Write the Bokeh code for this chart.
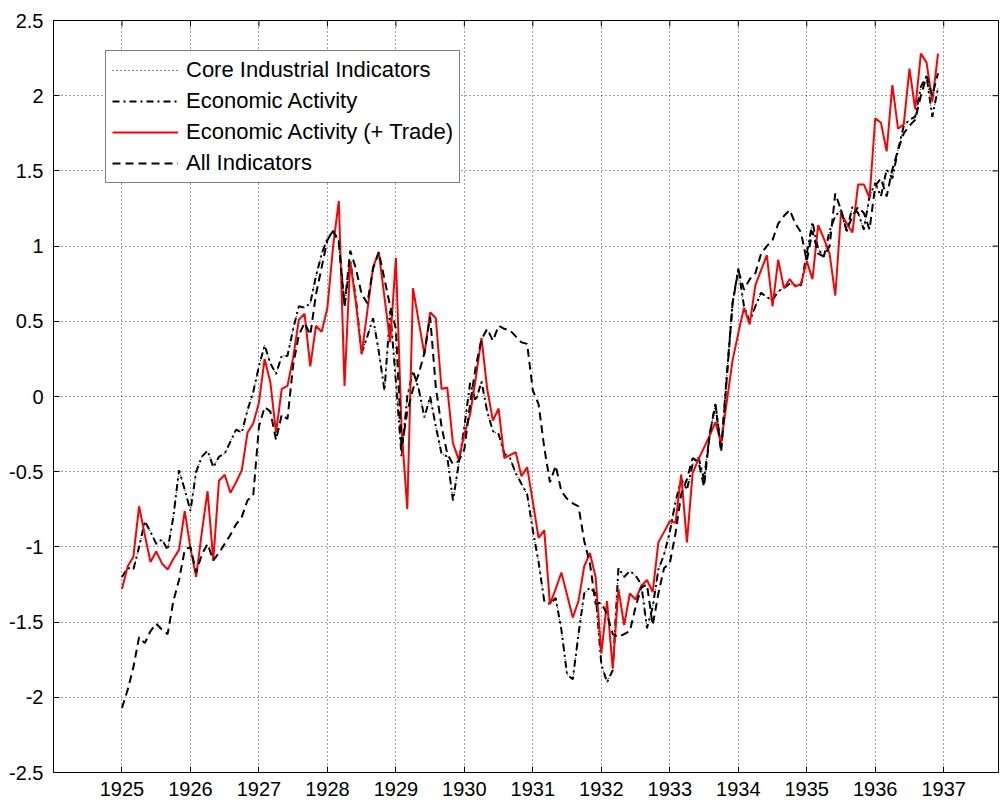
from bokeh.plotting import figure
from bokeh.models import Range1d, FixedTicker, Legend, LegendItem
from bokeh.embed import file_html
from bokeh.resources import INLINE
import math

# ---------------- data (monthly, Jan 1925 .. Dec 1936) ----------------
start_year = 1925
n_months = 144

trade_values = [
    -1.28, -1.13, -1.065, -0.73, -0.92, -1.10, -1.03, -1.11, -1.15, -1.08, -1.02, -0.76,
    -1.01, -1.20, -0.90, -0.63, -1.09, -0.56, -0.52, -0.64, -0.57, -0.49, -0.24, -0.18,
    -0.04, 0.25, 0.095, -0.24, 0.05, 0.07, 0.26, 0.51, 0.55, 0.20, 0.47, 0.43,
    0.59, 1.00, 1.30, 0.07, 0.90, 0.62, 0.28, 0.57, 0.86, 0.96, 0.66, 0.36,
    0.92, -0.22, -0.75, 0.72, 0.50, 0.28, 0.56, 0.52, 0.05, 0.06, -0.31, -0.42,
    -0.25, -0.12, 0.12, 0.39, 0.05, -0.16, -0.08, -0.41, -0.39, -0.37, -0.53, -0.47,
    -0.70, -0.94, -0.89, -1.38, -1.28, -1.17, -1.32, -1.47, -1.36, -1.13, -1.04, -1.20,
    -1.71, -1.36, -1.81, -1.28, -1.52, -1.31, -1.35, -1.26, -1.22, -1.30, -0.97, -0.90,
    -0.83, -0.84, -0.52, -0.97, -0.51, -0.42, -0.34, -0.26, -0.17, -0.31, -0.03, 0.24,
    0.42, 0.59, 0.48, 0.74, 0.84, 0.94, 0.60, 0.91, 0.72, 0.78, 0.73, 0.75,
    0.90, 0.78, 1.14, 1.05, 0.95, 0.67, 1.22, 1.15, 1.09, 1.41, 1.41, 1.32,
    1.85, 1.82, 1.63, 2.07, 1.78, 1.81, 2.18, 1.91, 2.28, 2.22, 1.96, 2.28,
]

econ_values = [
    -1.20, -1.14, -1.15, -1.00, -0.83, -0.90, -0.98, -0.95, -1.02, -0.80, -0.49, -0.62,
    -0.76, -0.50, -0.40, -0.36, -0.47, -0.40, -0.38, -0.30, -0.22, -0.24, -0.09, 0.03,
    0.20, 0.34, 0.22, 0.15, 0.27, 0.27, 0.45, 0.60, 0.59, 0.62, 0.80, 0.95,
    1.05, 1.10, 1.04, 0.60, 0.90, 0.65, 0.29, 0.40, 0.52, 0.30, 0.04, 0.57,
    0.10, -0.40, 0.00, 0.17, 0.05, -0.14, 0.00, -0.20, -0.38, -0.40, -0.69, -0.45,
    -0.20, 0.09, -0.03, 0.10, -0.10, -0.23, -0.25, -0.38, -0.41, -0.51, -0.58, -0.65,
    -0.89, -1.10, -1.36, -1.38, -1.34, -1.55, -1.85, -1.88, -1.58, -1.31, -1.27, -1.31,
    -1.78, -1.90, -1.82, -1.14, -1.20, -1.16, -1.19, -1.25, -1.54, -1.40, -1.15, -1.05,
    -0.90, -0.70, -0.55, -0.62, -0.45, -0.40, -0.55, -0.25, -0.05, -0.35, 0.15, 0.62,
    0.85, 0.60, 0.50, 0.60, 0.69, 0.66, 0.64, 0.70, 0.72, 0.75, 0.74, 0.74,
    0.95, 1.16, 0.98, 0.93, 1.10, 1.20, 1.24, 1.10, 1.26, 1.22, 1.11, 1.33,
    1.42, 1.33, 1.51, 1.45, 1.64, 1.80, 1.84, 1.86, 2.06, 2.13, 1.86, 2.05,
]

all_values = [
    -2.07, -1.95, -1.80, -1.60, -1.64, -1.56, -1.51, -1.55, -1.58, -1.36, -1.22, -1.02,
    -1.00, -1.17, -1.05, -0.98, -1.09, -1.04, -0.98, -0.92, -0.85, -0.80, -0.69, -0.66,
    -0.20, -0.07, -0.10, -0.29, -0.12, -0.15, 0.21, 0.41, 0.49, 0.41, 0.68, 0.86,
    1.04, 1.10, 1.02, 0.60, 0.97, 0.85, 0.68, 0.62, 0.85, 0.96, 0.78, 0.60,
    0.45, -0.34, -0.10, 0.05, 0.15, 0.29, 0.53, 0.06, -0.20, -0.38, -0.45, -0.43,
    -0.35, -0.05, 0.20, 0.38, 0.45, 0.37, 0.47, 0.45, 0.44, 0.40, 0.36, 0.35,
    0.04, -0.05, -0.34, -0.57, -0.46, -0.63, -0.68, -0.71, -0.73, -0.96, -1.11, -1.38,
    -1.37, -1.45, -1.58, -1.60, -1.58, -1.56, -1.40, -1.27, -1.25, -1.52, -1.31, -1.14,
    -1.11, -0.91, -0.65, -0.55, -0.41, -0.43, -0.60, -0.25, -0.05, -0.37, 0.13, 0.62,
    0.84, 0.71, 0.78, 0.82, 0.95, 1.00, 1.04, 1.15, 1.20, 1.24, 1.15, 1.09,
    0.90, 1.10, 0.95, 0.93, 1.00, 1.35, 1.24, 1.10, 1.20, 1.26, 1.22, 1.11,
    1.40, 1.45, 1.33, 1.51, 1.64, 1.75, 1.80, 1.84, 2.00, 2.13, 2.00, 2.15,
]

# the dotted series is hidden under the dash-dot one in the reference picture
core_values = list(econ_values)

x_ticks = list(range(1925, 1938))
y_ticks = [-2.5, -2, -1.5, -1, -0.5, 0, 0.5, 1, 1.5, 2, 2.5]
y_tick_labels = ["-2.5", "-2", "-1.5", "-1", "-0.5", "0", "0.5", "1", "1.5", "2", "2.5"]

series_labels = ["Core Industrial Indicators", "Economic Activity",
                 "Economic Activity (+ Trade)", "All Indicators"]

years = [start_year + m / 12.0 for m in range(n_months)]

X_MIN, X_MAX = 1924.0, 1937.8
Y_MIN, Y_MAX = -2.5, 2.5

# ---------------- figure ----------------
FONT = "Liberation Sans"
p = figure(width=1000, height=808, output_backend="svg", toolbar_location=None,
           x_range=Range1d(X_MIN, X_MAX), y_range=Range1d(Y_MIN, Y_MAX),
           min_border_left=53, min_border_right=2, min_border_top=20, min_border_bottom=36)
p.background_fill_color = "white"
p.border_fill_color = "white"
p.outline_line_color = "black"
p.outline_line_width = 1

# grid
p.xgrid.ticker = FixedTicker(ticks=x_ticks)
p.ygrid.ticker = FixedTicker(ticks=y_ticks)
for g in (p.xgrid, p.ygrid):
    g.grid_line_color = "#000000"
    g.grid_line_alpha = 0.75
    g.grid_line_dash = "1 3"
    g.grid_line_width = 1

# axes (MATLAB style: ticks pointing inward)
def style_axis(ax):
    ax.axis_line_color = "black"
    ax.major_tick_in = 6
    ax.major_tick_out = 0
    ax.minor_tick_in = 0
    ax.minor_tick_out = 0
    ax.major_tick_line_color = "black"
    ax.major_label_text_font = FONT
    ax.major_label_text_color = "black"
    ax.major_label_text_font_size = "20px"

xa = p.xaxis[0]
xa.ticker = FixedTicker(ticks=x_ticks)
xa.major_label_overrides = {t: str(t) for t in x_ticks}
style_axis(xa)
xa.major_label_standoff = 9

ya = p.yaxis[0]
ya.ticker = FixedTicker(ticks=y_ticks)
ya.major_label_overrides = dict(zip(y_ticks, y_tick_labels))
style_axis(ya)
ya.major_label_standoff = 10

# inward tick marks on the top and right edges of the box (half clipped by the frame)
p.scatter(x_ticks, [Y_MAX] * len(x_ticks), marker="dash", angle=math.pi / 2,
          size=12, line_color="black", line_width=1)
p.scatter([X_MAX] * len(y_ticks), y_ticks, marker="dash",
          size=12, line_color="black", line_width=1)

# lines
r_core = p.line(years, core_values, line_color="black", line_width=1, line_dash="1 3")
r_econ = p.line(years, econ_values, line_color="black", line_width=2, line_dash="7 4 2 4")
r_trade = p.line(years, trade_values, line_color="#ff0000", line_width=2)
r_all = p.line(years, all_values, line_color="black", line_width=2, line_dash="8 5")

legend = Legend(items=[LegendItem(label=lab, renderers=[r]) for lab, r in
                       zip(series_labels, [r_core, r_econ, r_trade, r_all])],
                location=(52, 589))
legend.label_text_font = FONT
legend.label_text_font_size = "22px"
legend.label_text_color = "black"
legend.glyph_width = 66
legend.glyph_height = 26
legend.label_height = 26
legend.label_standoff = 8
legend.spacing = 5
legend.padding = 6
legend.margin = 0
legend.border_line_color = "black"
legend.border_line_width = 1
legend.background_fill_color = "white"
legend.background_fill_alpha = 1.0
p.add_layout(legend, "center")

open("out.html", "w").write(file_html(p, INLINE))
